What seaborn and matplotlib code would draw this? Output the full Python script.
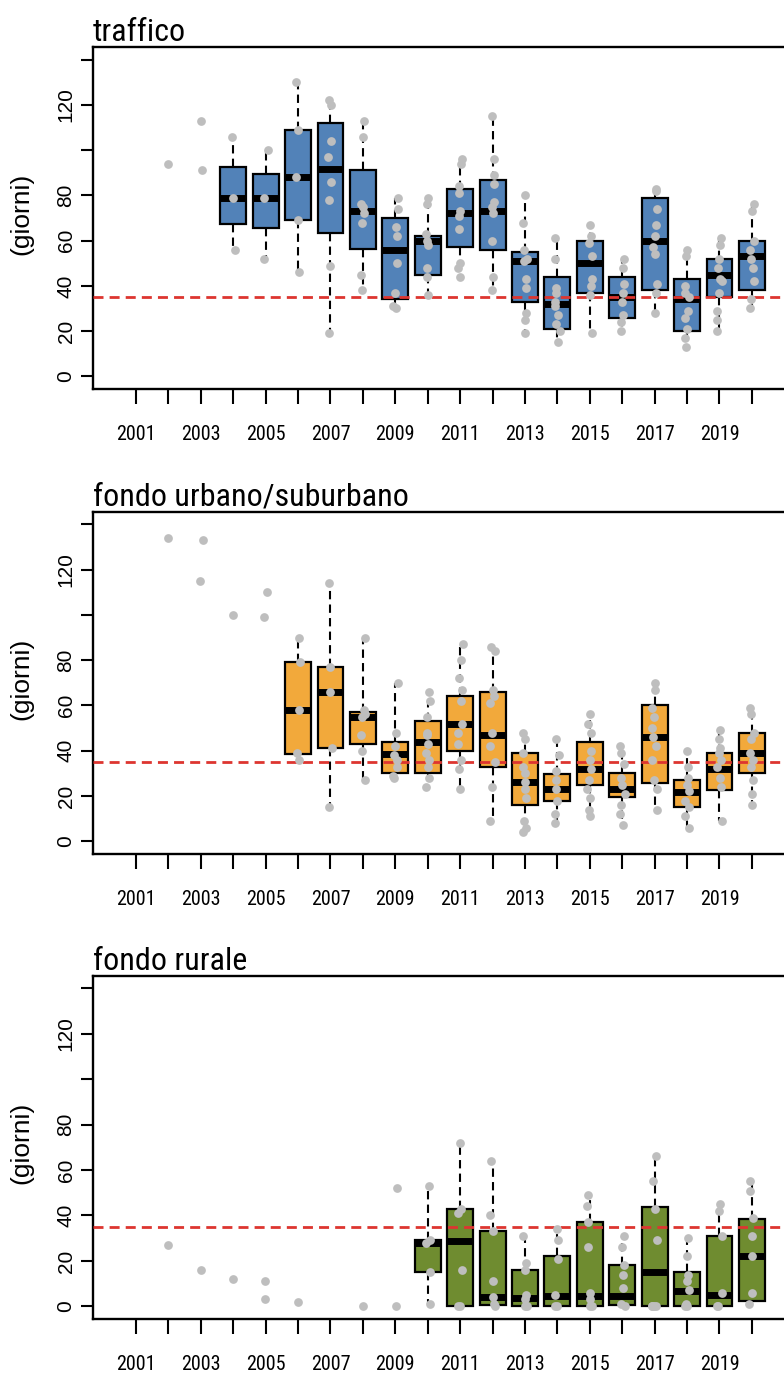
import numpy as np
import pandas as pd
import matplotlib.pyplot as plt
import seaborn as sns
from matplotlib import font_manager
from matplotlib.font_manager import FontProperties

# === asse x / asse y ===
anni = list(range(2001, 2021))
etichette_x = [str(a) if (a - 2001) % 2 == 0 else "" for a in anni]
tick_y = [0, 20, 40, 60, 80, 100, 120, 140]
etichette_y = ["0", "20", "40", "60", "80", "", "120", ""]
soglia = 35

# === traffico: statistiche dei box e punti annuali ===
t_anni_box = list(range(2004, 2021))
t_min = [56, 52, 46, 19, 38, 30, 36, 44, 38, 19, 15, 19, 20, 27, 12, 20, 30]
t_q1 = [67.5, 65.5, 69, 63.5, 56.5, 34.4, 45, 57, 56, 33, 21, 37, 26, 38, 20, 35, 38]
t_med = [79, 79, 88, 91.5, 73, 56, 60, 72, 73, 51, 32, 50, 35, 60, 34, 45, 53]
t_q3 = [92.5, 89.5, 109, 112, 91, 70, 62, 83, 87, 55, 44, 60, 44, 79, 43, 52, 60]
t_max = [106, 100, 130, 122, 113, 79, 79, 96, 115, 80, 61, 67, 52, 83, 56, 61, 76]
t_punti = {
    2002: [94],
    2003: [113, 91],
    2004: [106, 79, 56],
    2005: [100, 79, 52],
    2006: [130, 109, 88, 69, 46],
    2007: [122, 120, 104, 97, 86, 78, 49, 19],
    2008: [113, 106, 76, 75, 72, 68, 45, 38],
    2009: [79, 74, 66, 62, 50, 37, 31, 30],
    2010: [79, 76, 63, 60, 58, 48, 44, 36],
    2011: [96, 94, 84, 81, 73, 71, 65, 50, 48, 44],
    2012: [115, 96, 89, 85, 77, 75, 72, 60, 44, 38],
    2013: [80, 68, 56, 52, 51, 43, 39, 28, 25, 19],
    2014: [61, 52, 39, 37, 33, 31, 27, 23, 20, 15],
    2015: [67, 62, 59, 53, 43, 40, 36, 19],
    2016: [52, 48, 41, 37, 33, 27, 24, 20],
    2017: [83, 82, 74, 67, 62, 57, 54, 41, 37, 28],
    2018: [56, 53, 40, 37, 35, 29, 26, 21, 17, 13],
    2019: [61, 58, 52, 48, 43, 42, 37, 29, 25, 20],
    2020: [76, 73, 60, 56, 52, 48, 42, 34, 30],
}

# === fondo urbano/suburbano ===
u_anni_box = list(range(2006, 2021))
u_min = [36, 15, 27, 28, 24, 22.5, 8.5, 4, 8, 11, 6, 14, 6, 9, 16]
u_q1 = [38.7, 41, 43, 30, 30, 40, 33, 16, 18, 24.7, 19.6, 25.7, 15, 22.8, 30]
u_med = [58, 66, 55, 38.4, 43.8, 51.7, 47, 26, 23.3, 32, 23.3, 46, 21.8, 32, 39]
u_q3 = [79, 77, 57, 44, 53, 64, 66, 39, 29.6, 43.8, 30.2, 60, 27, 39, 48]
u_max = [90, 114, 90, 70, 66, 87, 86, 48, 45, 56, 42, 70, 40, 49, 59]
u_punti = {
    2002: [134],
    2003: [133, 115],
    2004: [100],
    2005: [110, 99],
    2006: [90, 79, 58, 39, 36],
    2007: [114, 77, 66, 41, 15],
    2008: [90, 58, 56, 55, 47, 40, 27],
    2009: [70, 48, 42, 38, 36, 33, 29, 28],
    2010: [66, 62, 55, 48, 47, 43, 39, 36, 33, 28, 24],
    2011: [87, 80, 72, 67, 62, 52, 48, 43, 36, 32, 23],
    2012: [86, 84, 67, 64, 61, 48, 42, 35, 24, 9],
    2013: [48, 45, 39, 33, 30, 26, 23, 19, 9, 6, 4],
    2014: [45, 38, 31, 27, 23, 18, 12, 8],
    2015: [56, 52, 48, 40, 36, 32, 27, 23, 19, 14, 11],
    2016: [42, 39, 34, 28, 25, 21, 16, 12, 7],
    2017: [70, 67, 59, 55, 50, 46, 42, 36, 27, 23, 14],
    2018: [40, 33, 28, 25, 22, 18, 15, 11, 6],
    2019: [49, 45, 41, 39, 36, 33, 28, 24, 9],
    2020: [59, 56, 48, 45, 39, 36, 33, 27, 21, 16],
}

# === fondo rurale ===
r_anni_box = list(range(2010, 2021))
r_min = [1, 0, 0, 0, 0, 0, 0, 0, 0, 0, 1]
r_q1 = [15, 0, 0.7, 0, 0, 0, 0.7, 0, 0, 0, 2.2]
r_med = [28, 28.7, 4.3, 3.5, 4.7, 4.7, 4.7, 15, 6.9, 5.2, 22]
r_q3 = [29.4, 43, 33.2, 16, 22, 37, 18, 43.8, 15, 31, 38.6]
r_max = [53, 72, 64, 31, 34, 49, 31, 66, 30, 45, 55]
r_punti = {
    2002: [27],
    2003: [16],
    2004: [12],
    2005: [11, 3],
    2006: [2],
    2008: [0],
    2009: [52, 0],
    2010: [53, 29, 28, 15, 1],
    2011: [72, 43, 41, 16, 0, 0],
    2012: [64, 40, 33, 11, 4, 1, 0],
    2013: [31, 19, 16, 5, 3, 0, 0],
    2014: [34, 29, 21, 5, 0, 0],
    2015: [49, 44, 37, 26, 6, 3, 0, 0],
    2016: [31, 26, 18, 14, 8, 1, 0],
    2017: [66, 55, 43, 29, 0, 0, 0, 0],
    2018: [30, 22, 14, 11, 7, 1, 0, 0],
    2019: [45, 42, 31, 6, 0, 0],
    2020: [55, 51, 39, 31, 22, 6, 1],
}


def tabella_box(anni_box, minimo, q1, mediana, q3, massimo):
    # cinque valori per anno: con whis=(0, 100) il box riproduce le statistiche lette
    righe = []
    for i, a in enumerate(anni_box):
        for v in (minimo[i], q1[i], mediana[i], q3[i], massimo[i]):
            righe.append((str(a), v))
    return pd.DataFrame(righe, columns=["anno", "giorni"])


def tabella_punti(punti):
    righe = [(str(a), v) for a, valori in punti.items() for v in valori]
    return pd.DataFrame(righe, columns=["anno", "giorni"])


def font_stretto():
    # il grafico originale usa un carattere stretto: cerca una variante narrow/condensed
    nomi = ["Liberation Sans Narrow", "Arial Narrow", "Roboto Condensed",
            "Noto Sans", "Open Sans", "Liberation Sans"]
    for nome in nomi:
        for f in font_manager.fontManager.ttflist:
            stretto = nome.endswith(("Narrow", "Condensed")) or f.stretch in ("condensed", "semi-condensed")
            if f.name == nome and stretto and f.style == "normal" and f.weight in (400, "normal", "regular"):
                return f.fname
    return None


sns.set_style("ticks")
plt.rcParams["font.family"] = ["Liberation Sans", "DejaVu Sans"]
plt.rcParams.update({"text.color": "black", "axes.labelcolor": "black",
                     "xtick.color": "black", "ytick.color": "black"})

file_stretto = font_stretto()
if file_stretto:
    prop_stretta = FontProperties(fname=file_stretto)
else:
    prop_stretta = FontProperties(family="Liberation Sans")

ordine = [str(a) for a in anni]
pannelli = [
    ("traffico", "#5282B8", tabella_box(t_anni_box, t_min, t_q1, t_med, t_q3, t_max),
     tabella_punti(t_punti), [0.1186, 0.7177, 0.8814, 0.2482]),
    ("fondo urbano/suburbano", "#F2A93B", tabella_box(u_anni_box, u_min, u_q1, u_med, u_q3, u_max),
     tabella_punti(u_punti), [0.1186, 0.3803, 0.8814, 0.2484]),
    ("fondo rurale", "#6F8C30", tabella_box(r_anni_box, r_min, r_q1, r_med, r_q3, r_max),
     tabella_punti(r_punti), [0.1186, 0.0428, 0.8814, 0.2491]),
]

np.random.seed(3)
fig = plt.figure(figsize=(7.84, 13.78), dpi=100)

for titolo, colore, box, punti, pos in pannelli:
    ax = fig.add_axes(pos)
    sns.boxplot(data=box, x="anno", y="giorni", order=ordine, color=colore,
                saturation=1, width=0.8, whis=(0, 100), showfliers=False,
                showcaps=False, linecolor="black",
                boxprops=dict(edgecolor="black", linewidth=1.6),
                medianprops=dict(color="black", linewidth=5),
                whiskerprops=dict(color="black", linewidth=1.5, linestyle=(0, (4, 2.5))),
                ax=ax)
    ax.axhline(soglia, color="#DD3530", lw=2, dashes=(3.6, 2.2), zorder=4)
    sns.stripplot(data=punti, x="anno", y="giorni", order=ordine, color="#BEBEBE",
                  size=6.3, jitter=0.08, linewidth=0, zorder=5, ax=ax)

    ax.set_xlim(-1.327, 19.99)
    ax.set_ylim(-5.6, 145.6)
    ax.set_xticks(range(len(anni)))
    ax.set_xticklabels(etichette_x, fontproperties=prop_stretta)
    for et in ax.get_xticklabels():
        et.set_fontsize(14.5)
    ax.set_yticks(tick_y)
    ax.set_yticklabels(etichette_y, rotation=90, va="center", fontsize=15)
    ax.tick_params(axis="x", length=11, width=1.5, pad=15, color="black")
    ax.tick_params(axis="y", length=8.5, width=1.5, pad=4, color="black")
    ax.set_xlabel("")
    ax.set_ylabel("")
    ax.text(-0.1042, 0.512, "(giorni)", transform=ax.transAxes, rotation=90,
            ha="center", va="center", fontsize=19)
    t = ax.set_title(titolo, loc="left", pad=4.5, fontproperties=prop_stretta)
    t.set_fontsize(23)
    ax.spines["right"].set_visible(False)
    for lato in ("left", "bottom", "top"):
        ax.spines[lato].set_linewidth(1.7)
        ax.spines[lato].set_color("black")

fig.savefig("out.png", dpi=100)
